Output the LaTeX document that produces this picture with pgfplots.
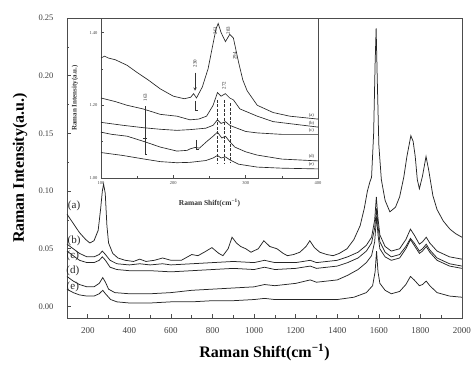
\documentclass[border=0pt]{standalone}
\usepackage{fontspec}
\setmainfont{Liberation Serif}
\usepackage{pgfplots}
\pgfplotsset{compat=1.18}
\begin{document}
\begin{tikzpicture}
\path[use as bounding box] (-67pt,-56pt) rectangle (405pt,318pt);
\begin{axis}[
  name=main, at={(0pt,0pt)}, anchor=south west,
  scale only axis, width=395pt, height=300pt,
  xmin=100, xmax=2000, ymin=-0.01, ymax=0.25,
  xtick={200,400,600,800,1000,1200,1400,1600,1800,2000},
  ytick={0,0.05,0.10,0.15,0.20,0.25},
  minor x tick num=1, minor y tick num=1,
  tick align=inside, tick pos=left,
  major tick length=4pt, minor tick length=2.5pt,
  axis line style={black!70, line width=0.8pt},
  every tick/.style={black!70, line width=0.6pt},
  /pgf/number format/assume math mode=true,
  xticklabel style={/pgf/number format/1000 sep={}, font=\fontsize{9}{10}\selectfont, yshift=-6pt, text=black!75},
  yticklabel style={/pgf/number format/.cd, fixed, fixed zerofill, precision=2, /tikz/.cd, font=\fontsize{8.5}{10}\selectfont, xshift=-10pt, text=black!75},
  xlabel={Raman Shift(cm\textsuperscript{−1})},
  ylabel={Raman Intensity(a.u.)},
  xlabel style={at={(axis description cs:0.5,-0.115)}, anchor=center, font=\fontsize{16}{18}\selectfont\bfseries},
  ylabel style={at={(axis description cs:-0.119,0.5)}, anchor=center, font=\fontsize{16}{18}\selectfont\bfseries},
  every axis plot post/.style={black!85, line width=0.75pt, mark=none},
  clip=true,
]
% (a)
\addplot coordinates {(100,0.080) (130,0.072) (160,0.064) (190,0.058) (210,0.055) (230,0.057) (250,0.066) (262,0.085) (270,0.100) (276,0.106) (284,0.098) (292,0.070) (300,0.055) (320,0.046) (345,0.042) (380,0.040) (420,0.039) (450,0.041) (480,0.039) (520,0.040) (560,0.042) (600,0.040) (650,0.040) (700,0.045) (730,0.044) (760,0.047) (797,0.051) (830,0.046) (850,0.044) (875,0.050) (894,0.060) (915,0.055) (935,0.052) (960,0.050) (985,0.047) (1020,0.050) (1047,0.057) (1075,0.052) (1110,0.050) (1140,0.046) (1160,0.044) (1190,0.045) (1220,0.047) (1250,0.052) (1268,0.057) (1290,0.051) (1316,0.047) (1350,0.045) (1380,0.044) (1410,0.046) (1447,0.050) (1480,0.058) (1510,0.070) (1530,0.085) (1545,0.100) (1557,0.108) (1565,0.112) (1575,0.150) (1582,0.210) (1587,0.241) (1592,0.200) (1600,0.140) (1612,0.110) (1630,0.092) (1653,0.082) (1680,0.086) (1700,0.095) (1720,0.112) (1735,0.130) (1754,0.148) (1765,0.143) (1775,0.130) (1785,0.110) (1795,0.102) (1810,0.113) (1827,0.130) (1840,0.118) (1860,0.096) (1880,0.084) (1910,0.074) (1942,0.067) (1970,0.063) (2000,0.060)};
% (b)
\addplot coordinates {(100,0.054) (130,0.050) (160,0.046) (196,0.043) (230,0.043) (255,0.045) (270,0.048) (285,0.045) (307,0.040) (340,0.037) (400,0.036) (450,0.037) (500,0.036) (560,0.037) (600,0.036) (700,0.037) (800,0.038) (900,0.039) (1000,0.038) (1050,0.040) (1100,0.038) (1200,0.038) (1270,0.040) (1300,0.038) (1400,0.040) (1450,0.043) (1500,0.047) (1540,0.053) (1565,0.060) (1580,0.075) (1588,0.095) (1595,0.078) (1605,0.062) (1630,0.052) (1660,0.048) (1700,0.050) (1730,0.058) (1752,0.067) (1770,0.062) (1795,0.054) (1810,0.056) (1828,0.060) (1845,0.055) (1880,0.048) (1940,0.043) (2000,0.041)};
% (c)
\addplot coordinates {(100,0.048) (130,0.044) (160,0.040) (196,0.038) (230,0.038) (255,0.040) (270,0.043) (285,0.040) (307,0.034) (340,0.032) (400,0.031) (500,0.031) (600,0.030) (700,0.031) (800,0.032) (900,0.033) (1000,0.032) (1050,0.034) (1100,0.032) (1200,0.033) (1270,0.035) (1300,0.033) (1400,0.035) (1450,0.038) (1500,0.042) (1540,0.048) (1565,0.055) (1580,0.068) (1589,0.085) (1596,0.070) (1605,0.056) (1630,0.047) (1660,0.043) (1700,0.045) (1730,0.052) (1752,0.059) (1770,0.055) (1795,0.048) (1810,0.050) (1828,0.054) (1845,0.049) (1880,0.042) (1940,0.037) (2000,0.035)};
% (d)
\addplot coordinates {(100,0.026) (130,0.022) (160,0.019) (196,0.017) (230,0.017) (255,0.020) (272,0.025) (285,0.021) (300,0.015) (330,0.012) (400,0.011) (500,0.011) (600,0.012) (700,0.014) (800,0.015) (900,0.016) (1000,0.017) (1050,0.019) (1100,0.018) (1200,0.020) (1270,0.023) (1300,0.021) (1400,0.023) (1450,0.027) (1500,0.032) (1540,0.038) (1565,0.044) (1580,0.056) (1589,0.078) (1596,0.062) (1605,0.050) (1630,0.043) (1660,0.040) (1700,0.042) (1730,0.050) (1752,0.058) (1770,0.053) (1795,0.046) (1810,0.048) (1828,0.052) (1845,0.047) (1880,0.040) (1940,0.035) (2000,0.033)};
% (e)
\addplot coordinates {(100,0.015) (130,0.012) (160,0.010) (196,0.009) (230,0.009) (255,0.011) (272,0.014) (285,0.011) (310,0.006) (340,0.004) (400,0.003) (500,0.003) (600,0.004) (700,0.004) (800,0.005) (900,0.005) (1000,0.006) (1050,0.007) (1100,0.006) (1200,0.006) (1300,0.006) (1400,0.006) (1480,0.008) (1540,0.012) (1570,0.018) (1582,0.030) (1589,0.048) (1596,0.030) (1605,0.020) (1630,0.014) (1660,0.011) (1700,0.013) (1730,0.019) (1752,0.026) (1770,0.023) (1795,0.018) (1810,0.019) (1828,0.022) (1845,0.018) (1880,0.012) (1940,0.009) (2000,0.008)};
\node[font=\fontsize{11}{12}\selectfont, text=black!85] at (axis cs:134,0.087) {(a)};
\node[font=\fontsize{11}{12}\selectfont, text=black!85] at (axis cs:134,0.0565) {(b)};
\node[font=\fontsize{11}{12}\selectfont, text=black!85] at (axis cs:128,0.044) {(c)};
\node[font=\fontsize{11}{12}\selectfont, text=black!85] at (axis cs:128,0.031) {(d)};
\node[font=\fontsize{11}{12}\selectfont, text=black!85] at (axis cs:128,0.017) {(e)};
\end{axis}
\begin{axis}[
  at={(34pt,140pt)}, anchor=south west,
  scale only axis, width=217pt, height=160pt,
  xmin=100, xmax=400, ymin=1.0, ymax=1.44,
  xtick={100,200,300,400}, ytick={1.0,1.2,1.4},
  minor x tick num=1, minor y tick num=1,
  tick align=inside, tick pos=left,
  major tick length=3pt, minor tick length=1.8pt,
  axis background/.style={fill=white},
  axis line style={black!70, line width=0.8pt},
  every tick/.style={black!70, line width=0.5pt},
  /pgf/number format/assume math mode=true,
  xticklabel style={font=\fontsize{4.5}{5}\selectfont, text=black!75},
  yticklabel style={/pgf/number format/.cd, fixed, fixed zerofill, precision=2, /tikz/.cd, font=\fontsize{4.5}{5}\selectfont, text=black!75},
  xlabel={Raman Shift(cm\textsuperscript{−1})},
  ylabel={Raman Intensity(a.u.)},
  xlabel style={at={(axis description cs:0.5,-0.155)}, anchor=center, font=\fontsize{7.5}{8}\selectfont\bfseries, text=black!80},
  ylabel style={at={(axis description cs:-0.12,0.5)}, anchor=center, font=\fontsize{7}{8}\selectfont\bfseries, text=black!80},
  every axis plot post/.style={black!85, line width=0.65pt, mark=none},
  clip=true,
]
\addplot coordinates {(100,1.330) (105,1.335) (110,1.330) (120,1.325) (136,1.310) (150,1.290) (165,1.270) (182,1.245) (200,1.225) (215,1.218) (224,1.222) (228,1.232) (232,1.220) (240,1.250) (248,1.300) (254,1.360) (259,1.410) (262,1.425) (266,1.400) (272,1.375) (278,1.395) (283,1.385) (290,1.320) (296,1.270) (302,1.240) (316,1.200) (338,1.180) (361,1.170) (400,1.162)};
\addplot coordinates {(100,1.220) (120,1.210) (136,1.200) (158,1.190) (182,1.175) (205,1.170) (223,1.160) (235,1.162) (246,1.170) (255,1.200) (261,1.235) (266,1.225) (272,1.232) (278,1.220) (283,1.215) (292,1.190) (316,1.170) (338,1.155) (400,1.140)};
\addplot coordinates {(100,1.153) (130,1.145) (160,1.138) (182,1.134) (205,1.131) (223,1.133) (245,1.137) (255,1.145) (261,1.160) (266,1.150) (272,1.155) (278,1.145) (284,1.140) (300,1.128) (316,1.124) (350,1.120) (400,1.120)};
\addplot coordinates {(100,1.126) (115,1.120) (136,1.115) (160,1.100) (182,1.085) (205,1.074) (219,1.076) (223,1.080) (230,1.084) (236,1.082) (246,1.100) (255,1.115) (261,1.126) (267,1.110) (272,1.115) (278,1.100) (285,1.085) (300,1.072) (316,1.063) (350,1.052) (400,1.047)};
\addplot coordinates {(100,1.070) (130,1.062) (160,1.052) (182,1.045) (205,1.042) (223,1.043) (245,1.048) (255,1.055) (261,1.062) (266,1.055) (272,1.058) (278,1.050) (290,1.038) (316,1.030) (350,1.027) (400,1.025)};
% peak annotations
\tikzset{pk/.style={font=\fontsize{5}{5}\selectfont, rotate=90, inner sep=0.5pt, text=black!85}}
\node[pk] at (axis cs:161,1.222) {163};
\draw[black!80, line width=0.5pt] (axis cs:161,1.197) -- (axis cs:161,1.065) -- (axis cs:164,1.065);
\draw[black!80, line width=0.5pt] (axis cs:158,1.108) -- (axis cs:163,1.108);
\node[pk] at (axis cs:230,1.315) {230};
\draw[black!80, line width=0.5pt, -stealth] (axis cs:230,1.29) -- (axis cs:230,1.24);
\draw[black!80, line width=0.5pt] (axis cs:230,1.212) -- (axis cs:230,1.185) -- (axis cs:234,1.185);
\draw[black!80, line width=0.5pt] (axis cs:232,1.105) -- (axis cs:232,1.078) -- (axis cs:236,1.078);
\node[pk] at (axis cs:258,1.405) {261};
\node[pk] at (axis cs:276,1.405) {283};
\node[pk] at (axis cs:285,1.335) {294};
\node[pk] at (axis cs:270,1.255) {272};
\draw[black!80, line width=0.45pt, dash pattern=on 3pt off 1.5pt] (axis cs:261,1.215) -- (axis cs:261,1.04);
\draw[black!80, line width=0.45pt, dash pattern=on 3pt off 1.5pt] (axis cs:271,1.215) -- (axis cs:271,1.04);
\draw[black!80, line width=0.45pt, dash pattern=on 3pt off 1.5pt] (axis cs:279,1.205) -- (axis cs:279,1.04);
\tikzset{cl/.style={font=\fontsize{4.5}{5}\selectfont, inner sep=0.5pt, text=black!85}}
\node[cl] at (axis cs:391,1.172) {(a)};
\node[cl] at (axis cs:391,1.150) {(b)};
\node[cl] at (axis cs:391,1.130) {(c)};
\node[cl] at (axis cs:391,1.060) {(d)};
\node[cl] at (axis cs:391,1.037) {(e)};
\end{axis}
\end{tikzpicture}
\end{document}
